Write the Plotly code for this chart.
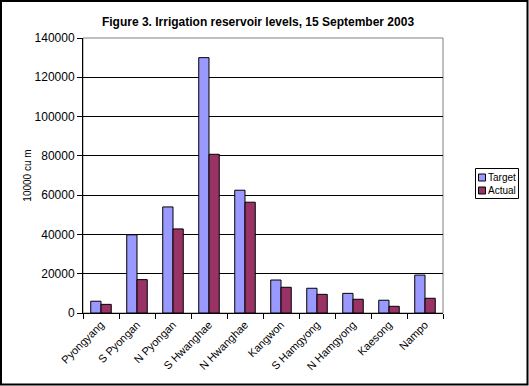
import plotly.graph_objects as go

categories = ["Pyongyang", "S Pyongan", "N Pyongan", "S Hwanghae", "N Hwanghae",
              "Kangwon", "S Hamgyong", "N Hamgyong", "Kaesong", "Nampo"]
target = [6000, 39800, 54000, 130000, 62500, 16800, 12600, 10000, 6500, 19300]
actual = [4400, 17000, 42800, 80800, 56400, 13100, 9500, 7000, 3400, 7500]
y_ticks = [0, 20000, 40000, 60000, 80000, 100000, 120000, 140000]
series_names = ["Target", "Actual"]
series_colors = ["#9999FF", "#993366"]

W, H = 529, 386
L, R, T, B = 83, 86, 38, 73
pw, ph = W - L - R, H - T - B

font = "Liberation Sans, Arial, sans-serif"

fig = go.Figure()
for name, vals, col in zip(series_names, [target, actual], series_colors):
    fig.add_trace(go.Bar(x=categories, y=vals, name=name, showlegend=False,
                         marker=dict(color=col, line=dict(color="black", width=1))))

def px(x):
    return (x - L) / pw

def py(y):
    return (H - B - y) / ph

shapes = [
    dict(type="rect", xref="paper", yref="paper", x0=0, x1=1, y0=0, y1=1,
         line=dict(color="#808080", width=1), layer="below"),
    dict(type="rect", xref="paper", yref="paper",
         x0=px(1), x1=px(W - 1.5), y0=py(H - 1.5), y1=py(1),
         line=dict(color="black", width=2), layer="above"),
    # legend box
    dict(type="rect", xref="paper", yref="paper",
         x0=px(475.5), x1=px(518.5), y0=py(198.5), y1=py(168.5),
         line=dict(color="black", width=1), fillcolor="white", layer="above"),
]
annotations = []
for i, (name, col) in enumerate(zip(series_names, series_colors)):
    yc = 177.5 + i * 13
    shapes.append(dict(type="rect", xref="paper", yref="paper",
                       x0=px(478.5), x1=px(485.5), y0=py(yc + 3.5), y1=py(yc - 3.5),
                       line=dict(color="black", width=1), fillcolor=col, layer="above"))
    annotations.append(dict(text=name, xref="paper", yref="paper", x=px(485.5), y=py(yc),
                            xanchor="left", yanchor="middle", showarrow=False,
                            font=dict(size=10, family=font, color="black")))

fig.update_layout(
    width=W, height=H,
    margin=dict(l=L, r=R, t=T, b=B, pad=0, autoexpand=False),
    paper_bgcolor="white", plot_bgcolor="white",
    barmode="group", bargap=0.43, bargroupgap=0,
    font=dict(family=font, size=11, color="black"),
    title=dict(text="<b>Figure 3. Irrigation reservoir levels, 15 September 2003</b>",
               x=258 / W, xanchor="center", y=1 - 22 / H, yanchor="middle",
               font=dict(size=12, family=font)),
    showlegend=False,
    xaxis=dict(type="category", tickangle=-45, showline=True, linecolor="black",
               linewidth=1, ticks="outside", tickson="boundaries", ticklen=5,
               tickcolor="black", showgrid=False, tickfont=dict(size=11),
               automargin=False),
    yaxis=dict(range=[0, 140000], tickvals=y_ticks, tickformat="d", showline=True,
               linecolor="black", linewidth=1, ticks="outside", ticklen=5,
               tickcolor="black", showgrid=True, gridcolor="black", gridwidth=1,
               zeroline=False, tickfont=dict(size=12), automargin=False,
               title=dict(text="10000 cu m", font=dict(size=10), standoff=1)),
    shapes=shapes,
    annotations=annotations,
)

fig.write_html("out.html")
